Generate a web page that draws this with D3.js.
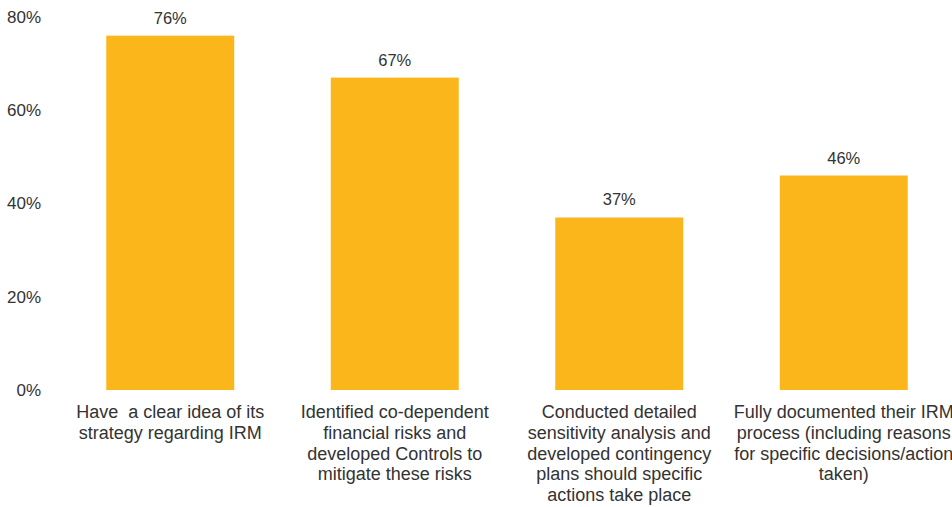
<!DOCTYPE html>
<html>
<head>
<meta charset="utf-8">
<script src="https://cdnjs.cloudflare.com/ajax/libs/d3/7.8.5/d3.min.js"></script>
<style>
    body { margin: 0; background: #ffffff; }
    svg { display: block; }
    .tick-label { font-family: "Liberation Sans", Arial, sans-serif; font-size: 17px; fill: #333333; }
    .value-label { font-family: "Liberation Sans", Arial, sans-serif; font-size: 16.5px; fill: #333333; }
    .cat-label { font-family: "Liberation Sans", Arial, sans-serif; font-size: 18px; fill: #333333; }
</style>
</head>
<body>
<script>
// data
var categories = [
    ["Have  a clear idea of its", "strategy regarding IRM"],
    ["Identified co-dependent", "financial risks and", "developed Controls to", "mitigate these risks"],
    ["Conducted detailed", "sensitivity analysis and", "developed contingency", "plans should specific", "actions take place"],
    ["Fully documented their IRM", "process (including reasons", "for specific decisions/action", "taken)"]
];
var values = [76, 67, 37, 46];
var yTicks = [0, 20, 40, 60, 80];

var width = 952;
var height = 507;
var padding = {top: 17, bottom: 117, left: 58, right: -4}; // chart runs past the right edge

var svg = d3.select("body")
            .append("svg")
            .attr("width", width)
            .attr("height", height);

// x-axis scale (band)
var xScale = d3.scaleBand()
                .domain(d3.range(values.length))
                .range([padding.left, width - padding.right])
                .paddingInner(0.43)
                .paddingOuter(0.215);

// y-axis scale
var yScale = d3.scaleLinear()
                .domain([0, 80])
                .range([height - padding.bottom, padding.top]);

// y axis: only the labels, no line or ticks
var yAxis = d3.axisLeft(yScale)
                .tickValues(yTicks)
                .tickSize(0)
                .tickPadding(0)
                .tickFormat(function(d) { return d + "%"; });

var gy = svg.append("g")
            .attr("transform", "translate(41,0)")
            .call(yAxis);
gy.select(".domain").remove();
gy.selectAll("text")
    .attr("class", "tick-label")
    .attr("font-family", null)
    .attr("font-size", null);

// bars
svg.selectAll("rect.bar")
    .data(values)
    .enter()
    .append("rect")
    .attr("class", "bar")
    .attr("fill", "#fbb61b")
    .attr("x", function(d, i) { return xScale(i); })
    .attr("y", function(d) { return yScale(d); })
    .attr("width", xScale.bandwidth())
    .attr("height", function(d) { return yScale(0) - yScale(d); });

// value labels above the bars
svg.selectAll("text.value-label")
    .data(values)
    .enter()
    .append("text")
    .attr("class", "value-label")
    .attr("text-anchor", "middle")
    .attr("x", function(d, i) { return xScale(i) + xScale.bandwidth() / 2; })
    .attr("y", function(d) { return yScale(d) - 12; })
    .text(function(d) { return d + "%"; });

// category labels, several lines each
var cats = svg.selectAll("text.cat-label")
                .data(categories)
                .enter()
                .append("text")
                .attr("class", "cat-label")
                .attr("text-anchor", "middle")
                .attr("xml:space", "preserve")
                .attr("transform", function(d, i) {
                    return "translate(" + (xScale(i) + xScale.bandwidth() / 2) + "," + (yScale(0) + 28) + ")";
                });

cats.selectAll("tspan")
    .data(function(d) { return d; })
    .enter()
    .append("tspan")
    .attr("x", 0)
    .attr("y", function(d, j) { return j * 20.8; })
    .text(function(d) { return d; });
</script>
</body>
</html>
